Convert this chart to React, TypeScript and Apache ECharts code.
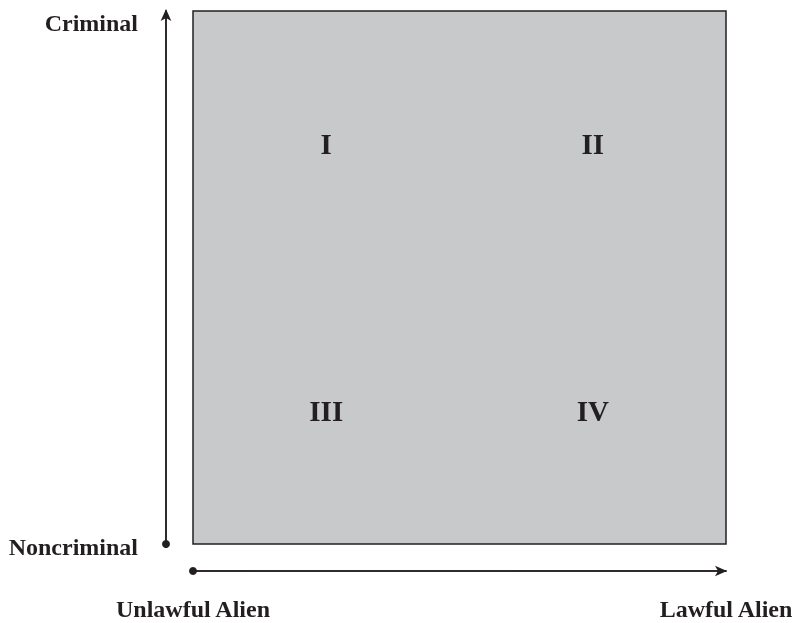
import React, { useEffect, useRef } from "react";
import * as echarts from "echarts";

// Quadrant labels and their positions (in axis units, 0..2 on each axis)
const quadrantNames = ["I", "II", "III", "IV"];
const quadrantX = [0.5, 1.5, 0.5, 1.5];
const quadrantY = [1.5, 1.5, 0.5, 0.5];

// Axis end labels: [start, end]
const xAxisNames = ["Unlawful Alien", "Lawful Alien"];
const yAxisNames = ["Noncriminal", "Criminal"];

const axisMin = 0;
const axisMax = 2;

export default function App() {
  const ref = useRef<HTMLDivElement>(null);

  useEffect(() => {
    if (!ref.current) return;
    const chart = echarts.init(ref.current, null, { renderer: "svg" });
    const ink = "#231f20";
    const font = "'Liberation Serif', 'Times New Roman', serif";
    const nameStyle = {
      fontFamily: font,
      fontWeight: "bold" as const,
      fontSize: 24,
      color: ink,
    };
    const base = {
      type: "value" as const,
      min: axisMin,
      max: axisMax,
      axisTick: { show: false },
      axisLabel: { show: false },
      splitLine: { show: false },
    };
    const lineStyle = { color: ink, width: 1.5 };

    chart.setOption({
      animation: false,
      grid: {
        left: 193,
        top: 11,
        width: 533,
        height: 533,
        show: true,
        backgroundColor: "#c8c9cb",
        borderColor: ink,
        borderWidth: 1.5,
        outerBoundsMode: "none",
        containLabel: false,
      },
      xAxis: [
        {
          ...base,
          position: "bottom",
          offset: 27,
          name: xAxisNames[1],
          nameLocation: "end",
          nameGap: 0,
          nameTextStyle: {
            ...nameStyle,
            align: "center",
            verticalAlign: "top",
            padding: [26, 0, 0, 0],
          },
          axisLine: {
            show: true,
            onZero: false,
            lineStyle,
            symbol: ["none", "arrow"],
            symbolSize: [8, 12],
            symbolOffset: [0, 1],
          },
        },
        {
          ...base,
          position: "bottom",
          offset: 27,
          name: xAxisNames[0],
          nameLocation: "start",
          nameGap: 0,
          nameTextStyle: {
            ...nameStyle,
            align: "center",
            verticalAlign: "top",
            padding: [26, 0, 0, 0],
          },
          axisLine: {
            show: true,
            onZero: false,
            lineStyle,
            symbol: ["circle", "none"],
            symbolSize: [8, 8],
          },
        },
      ],
      yAxis: [
        {
          ...base,
          position: "left",
          offset: 27,
          name: yAxisNames[1],
          nameLocation: "end",
          nameGap: -12,
          nameTextStyle: {
            ...nameStyle,
            align: "right",
            verticalAlign: "middle",
            padding: [0, 28, 0, 0],
          },
          axisLine: {
            show: true,
            onZero: false,
            lineStyle,
            symbol: ["none", "arrow"],
            symbolSize: [8, 12],
            symbolOffset: [0, 2],
          },
        },
        {
          ...base,
          position: "left",
          offset: 27,
          name: yAxisNames[0],
          nameLocation: "start",
          nameGap: 3,
          nameTextStyle: {
            ...nameStyle,
            align: "right",
            verticalAlign: "middle",
            padding: [0, 28, 0, 0],
          },
          axisLine: {
            show: true,
            onZero: false,
            lineStyle,
            symbol: ["circle", "none"],
            symbolSize: [8, 8],
          },
        },
      ],
      series: [
        {
          type: "scatter",
          xAxisIndex: 0,
          yAxisIndex: 0,
          symbolSize: 0,
          silent: true,
          itemStyle: { opacity: 1 },
          data: quadrantNames.map((n, i) => ({
            name: n,
            value: [quadrantX[i], quadrantY[i]],
          })),
          label: {
            show: true,
            position: "inside",
            formatter: "{b}",
            fontFamily: font,
            fontWeight: "bold",
            fontSize: 29,
            color: ink,
            opacity: 1,
          },
        },
      ],
    });

    return () => chart.dispose();
  }, []);

  return (
    <div
      ref={ref}
      style={{ position: "fixed", left: 0, top: 0, width: 796, height: 623 }}
    />
  );
}
